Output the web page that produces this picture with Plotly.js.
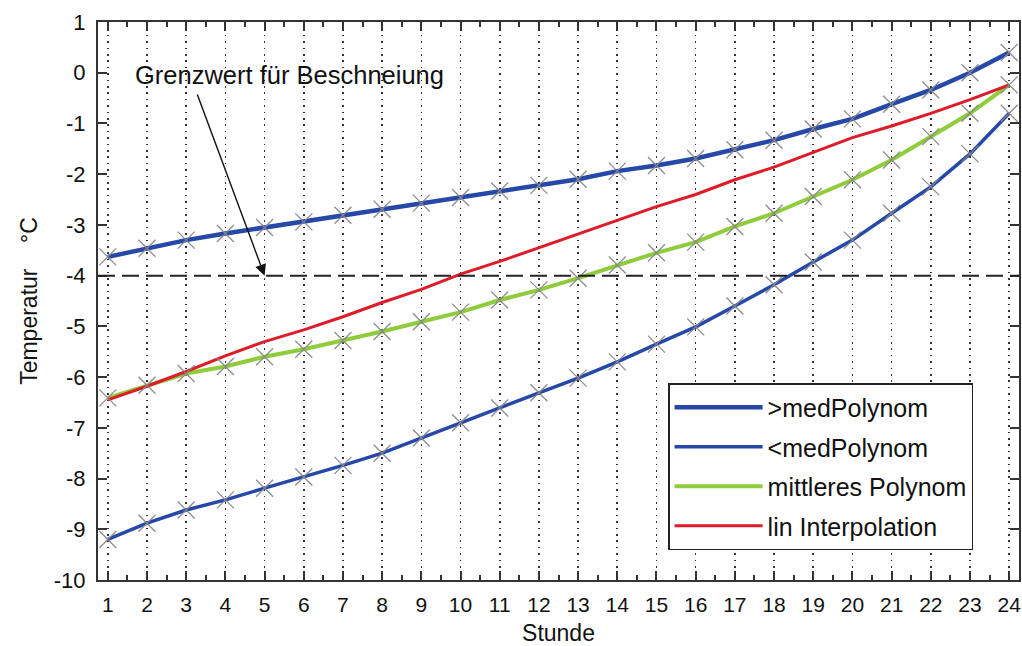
<!DOCTYPE html>
<html><head><meta charset="utf-8">
<script src="https://cdn.plot.ly/plotly-3.0.1.min.js"></script>
<style>html,body{margin:0;padding:0;background:#fff}#chart{width:1022px;height:646px}</style>
</head><body><div id="chart"></div>
<script>
const hours = [1,2,3,4,5,6,7,8,9,10,11,12,13,14,15,16,17,18,19,20,21,22,23,24];
const upperPoly = [-3.63,-3.46,-3.30,-3.17,-3.05,-2.94,-2.81,-2.69,-2.57,-2.46,-2.33,-2.22,-2.10,-1.94,-1.83,-1.69,-1.52,-1.33,-1.11,-0.91,-0.62,-0.34,0.0,0.40];
const lowerPoly = [-9.20,-8.88,-8.62,-8.42,-8.19,-7.97,-7.74,-7.50,-7.20,-6.90,-6.61,-6.31,-6.02,-5.70,-5.35,-5.01,-4.60,-4.18,-3.73,-3.30,-2.77,-2.25,-1.60,-0.80];
const midPoly = [-6.41,-6.16,-5.93,-5.79,-5.60,-5.45,-5.28,-5.10,-4.91,-4.72,-4.48,-4.28,-4.05,-3.79,-3.55,-3.34,-3.03,-2.77,-2.44,-2.11,-1.72,-1.26,-0.80,-0.24];
const linInterp = [-6.45,-6.18,-5.89,-5.58,-5.30,-5.07,-4.81,-4.53,-4.27,-3.97,-3.72,-3.45,-3.18,-2.90,-2.64,-2.40,-2.11,-1.86,-1.57,-1.28,-1.05,-0.80,-0.53,-0.24];
const seriesNames = ['>medPolynom','<medPolynom','mittleres Polynom','lin Interpolation'];
const yTickVals = [1,0,-1,-2,-3,-4,-5,-6,-7,-8,-9,-10];
const yTickText = ['1','0','-1','-2','-3','-4','-5','-6','-7','-8','-9','-10'];
const threshold = -4;
const arrowHour = 5;
const annotationText = 'Grenzwert für Beschneiung';

const BLUE = 'rgb(38,72,168)', GREEN = 'rgb(142,204,60)', RED = 'rgb(222,28,40)';
const FONT = 'Liberation Sans, Arial, sans-serif';

function lineTrace(y, name, color, width, grp){
  return {x: hours, y: y, name: name, type:'scatter', mode:'lines',
          line:{color:color, width:width}, legendgroup:grp};
}
function markerTrace(y){
  return {x: hours, y: y, type:'scatter', mode:'markers', showlegend:false, hoverinfo:'skip',
          marker:{symbol:'x-thin', size:17, line:{color:'rgba(135,135,135,0.95)', width:1.3}}};
}

const data = [
  lineTrace(upperPoly, seriesNames[0], BLUE, 4.5, 'a'),
  lineTrace(lowerPoly, seriesNames[1], BLUE, 3.5, 'b'),
  lineTrace(midPoly, seriesNames[2], GREEN, 4, 'c'),
  lineTrace(linInterp, seriesNames[3], RED, 3, 'd'),
  markerTrace(upperPoly), markerTrace(lowerPoly), markerTrace(midPoly)
];

const axisCommon = {
  showline:true, linecolor:'#333', linewidth:2, mirror:'ticks',
  ticks:'inside', ticklen:9, tickwidth:2, tickcolor:'#333',
  zeroline:false, tickfont:{family:FONT, size:22, color:'#111'},
  automargin:false, ticklabeloverflow:'allow'
};

const layout = {
  width:1022, height:646,
  paper_bgcolor:'#fff', plot_bgcolor:'#fff',
  margin:{l:98, r:3, t:22, b:66},
  font:{family:FONT, color:'#111'},
  showlegend:true,
  xaxis: Object.assign({}, axisCommon, {
    range:[0.75,24.25], tick0:1, dtick:1,
    tickfont:{family:FONT, size:21, color:'#111'},
    showgrid:true, gridcolor:'#333', gridwidth:1.6, griddash:'1.6px,4.8px',
    minor:{ticks:'inside', ticklen:5, tickwidth:2, tickcolor:'#333', dtick:0.5, tick0:0.5, showgrid:false},
    title:{text:'Stunde', font:{family:FONT, size:23, color:'#111'}, standoff:10},
    ticklabelstandoff:5
  }),
  yaxis: Object.assign({}, axisCommon, {
    range:[-10,1], tickmode:'array', tickvals:yTickVals, ticktext:yTickText, showgrid:false,
    title:{text:'Temperatur\u00a0\u00a0\u00a0\u00a0°C', font:{family:FONT, size:23, color:'#111'}, standoff:10},
    ticklabelstandoff:6
  }),
  legend:{
    x:0.619, y:0.353, xanchor:'left', yanchor:'top',
    bgcolor:'#fff', bordercolor:'#222', borderwidth:1.5,
    font:{family:FONT, size:25, color:'#111'},
    itemwidth:88, traceorder:'grouped', tracegroupgap:4
  },
  shapes:[{type:'line', xref:'paper', x0:0, x1:1, yref:'y', y0:threshold, y1:threshold,
           line:{color:'#222', width:2, dash:'17px,7px'}}],
  annotations:[
    {xref:'x', yref:'y', x:1.64, y:-0.05, xanchor:'left', yanchor:'middle', showarrow:false,
     text:annotationText, font:{family:FONT, size:25.5, color:'#111'}},
    {xref:'x', yref:'y', x:arrowHour, y:threshold, axref:'x', ayref:'y', ax:3.27, ay:-0.40,
     text:'', showarrow:true, arrowhead:2, arrowsize:1.6, arrowwidth:1.4, arrowcolor:'#111', standoff:0, startstandoff:0}
  ]
};

Plotly.newPlot('chart', data, layout, {displayModeBar:false, staticPlot:true});
</script></body></html>
